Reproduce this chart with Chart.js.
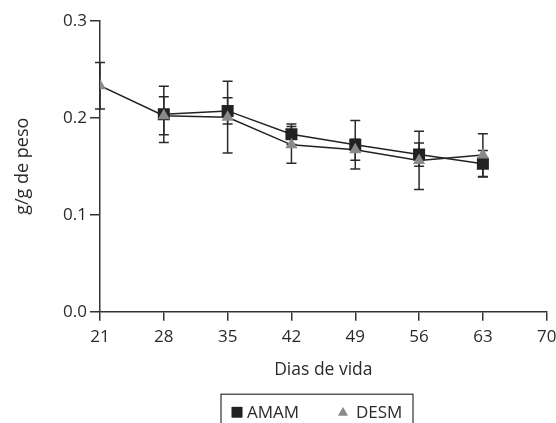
<!DOCTYPE html>
<html>
<head>
<meta charset="utf-8">
<script src="https://cdn.jsdelivr.net/npm/chart.js@4.4.1/dist/chart.umd.min.js"></script>
<style>
  html, body { margin: 0; padding: 0; background: #fff; overflow: hidden; width: 556px; height: 423px; }
  canvas { display: block; }
</style>
</head>
<body>
<canvas id="c" width="580" height="440"></canvas>
<script>
const days = [21, 28, 35, 42, 49, 56, 63];
const amam = [null, 0.2035, 0.207, 0.183, 0.172, 0.162, 0.1525];
const amamErr = [null, 0.029, 0.0135, 0.0105, 0.025, 0.012, 0.0137];
const desm = [0.233, 0.202, 0.2005, 0.172, 0.167, 0.156, 0.1615];
const desmErr = [0.024, 0.0195, 0.037, 0.019, 0.0108, 0.030, 0.022];
const xTicks = [21, 28, 35, 42, 49, 56, 63, 70];
const yTicks = [0.0, 0.1, 0.2, 0.3];
const seriesNames = ['AMAM', 'DESM'];

const FONT = '"Open Sans", "Noto Sans", sans-serif';
const TXT = '#2a2a2a';

const errorBars = {
  id: 'errorBars',
  beforeDatasetsDraw(chart) {
    const { ctx, scales: { x, y } } = chart;
    ctx.save();
    ctx.strokeStyle = '#2a2a2a';
    ctx.lineWidth = 1.5;
    [[amam, amamErr], [desm, desmErr]].forEach(([vals, errs]) => {
      days.forEach((d, i) => {
        if (vals[i] == null) return;
        const px = x.getPixelForValue(d);
        const t = y.getPixelForValue(vals[i] + errs[i]);
        const b = y.getPixelForValue(vals[i] - errs[i]);
        ctx.beginPath();
        ctx.moveTo(px, t); ctx.lineTo(px, b);
        ctx.moveTo(px - 5, t); ctx.lineTo(px + 5, t);
        ctx.moveTo(px - 5, b); ctx.lineTo(px + 5, b);
        ctx.stroke();
      });
    });
    ctx.restore();
  }
};

const boxLegend = {
  id: 'boxLegend',
  afterDraw(chart) {
    const { ctx, chartArea } = chart;
    const left = chartArea.left + 121;
    const top = chartArea.bottom + 82.5;
    const w = 192, h = 40;
    ctx.save();
    ctx.strokeStyle = '#333';
    ctx.lineWidth = 1.2;
    ctx.strokeRect(left, top, w, h);
    ctx.font = '17px ' + FONT;
    ctx.fillStyle = TXT;
    ctx.textBaseline = 'alphabetic';
    const ds = chart.data.datasets;
    const items = [ds.find(d => d.label === seriesNames[0]), ds.find(d => d.label === seriesNames[1])];
    const cy = top + 18;
    Chart.helpers.drawPoint(ctx, { pointStyle: 'rect', radius: 7.5, borderWidth: 0 }, left + 16, cy);
    ctx.fillStyle = items[0].pointBackgroundColor;
    ctx.fill();
    ctx.fillStyle = TXT;
    ctx.fillText(items[0].label, left + 26, cy + 6);
    ctx.fillStyle = items[1].pointBackgroundColor;
    Chart.helpers.drawPoint(ctx, { pointStyle: 'triangle', radius: 5.5, borderWidth: 0 }, left + 122, cy + 0.5);
    ctx.fill();
    ctx.fillStyle = TXT;
    ctx.fillText(items[1].label, left + 135, cy + 6);
    ctx.restore();
  }
};

const toPts = (vals) => days.map((d, i) => ({ x: d, y: vals[i] }));

new Chart(document.getElementById('c'), {
  type: 'line',
  data: {
    datasets: [
      {
        label: 'DESM', data: toPts(desm), order: 0,
        borderColor: '#222', borderWidth: 1.5,
        pointStyle: 'triangle', pointRadius: 7, pointBackgroundColor: '#8a8a8a', pointBorderColor: '#8a8a8a', pointBorderWidth: 0,
        spanGaps: false
      },
      {
        label: 'AMAM', data: toPts(amam), order: 1,
        borderColor: '#222', borderWidth: 1.5,
        pointStyle: 'rect', pointRadius: 8.5, pointBackgroundColor: '#222', pointBorderColor: '#222', pointBorderWidth: 0,
        spanGaps: false
      }
    ]
  },
  options: {
    responsive: false,
    animation: false,
    devicePixelRatio: 1,
    layout: { padding: { top: 20.7, right: 33.3, bottom: 59.8, left: 0 } },
    plugins: { legend: { display: false }, tooltip: { enabled: false } },
    scales: {
      x: {
        type: 'linear', min: 21, max: 70,
        afterBuildTicks(s) { s.ticks = xTicks.map(v => ({ value: v })); },
        ticks: { font: { size: 17, family: FONT }, color: TXT, padding: 6, maxRotation: 0 },
        grid: { display: true, drawOnChartArea: false, drawTicks: true, tickLength: 9, color: '#333', lineWidth: 1.5 },
        border: { display: true, color: '#333', width: 1.5 },
        title: { display: true, text: 'Dias de vida', font: { size: 17.5, family: FONT }, color: TXT, padding: { top: 0, bottom: 0 } },
        afterFit(s) { s.height = 68.5; }
      },
      y: {
        min: 0, max: 0.3,
        afterBuildTicks(s) { s.ticks = yTicks.map(v => ({ value: v })); },
        ticks: { font: { size: 17, family: FONT }, color: TXT, padding: 3, callback: v => Number(v).toFixed(1) },
        grid: { display: true, drawOnChartArea: false, drawTicks: true, tickLength: 10, color: '#333', lineWidth: 1.5 },
        border: { display: true, color: '#333', width: 1.5 },
        title: { display: true, text: 'g/g de peso', font: { size: 18, family: FONT }, color: TXT, padding: { top: 12, bottom: 0 } },
        afterFit(s) { s.width = 100; }
      }
    }
  },
  plugins: [errorBars, boxLegend]
});
</script>
</body>
</html>
